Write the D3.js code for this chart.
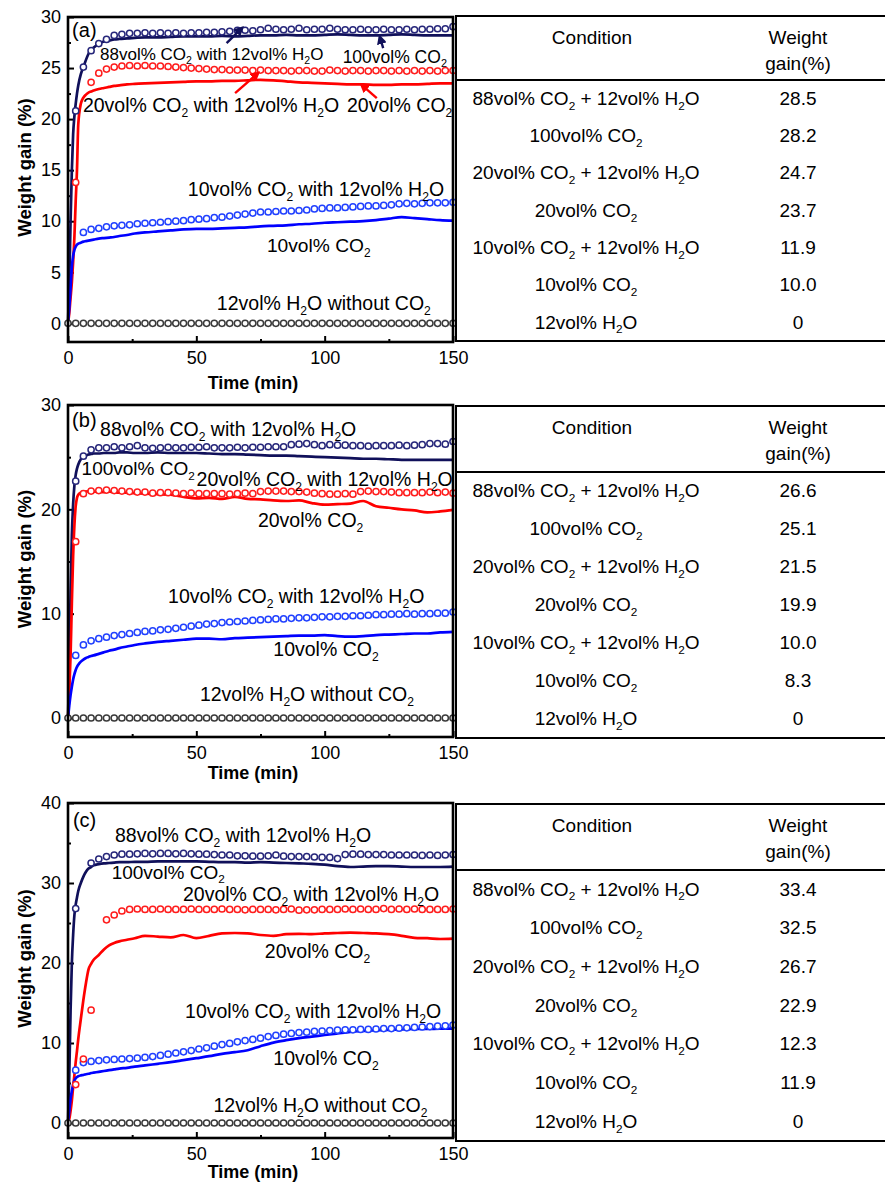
<!DOCTYPE html>
<html><head><meta charset="utf-8">
<script src="https://cdn.jsdelivr.net/npm/d3@7"></script>
<style>
body{margin:0;background:#fff;}
svg{display:block;}
</style></head><body>
<svg id="chart" width="885" height="1183"></svg>
<script>
// ---------------- DATA ----------------
const xTicks = [0, 50, 100, 150];
const xMinorTicks = [25, 75, 125];
const yTicksA = [0, 5, 10, 15, 20, 25, 30];
const yMinorA = [2.5, 7.5, 12.5, 17.5, 22.5, 27.5];
const yTicksB = [0, 10, 20, 30];
const yMinorB = [5, 15, 25];
const yTicksC = [0, 10, 20, 30, 40];
const yMinorC = [5, 15, 25, 35];

// time grid for the continuous (solid line) TGA curves, min
const lineTimes = [0,0.5,1,1.5,2,2.5,3,3.5,4,5,6,7,8,9,10,12,14,16,18,20,23,26,30,35,40,45,50,55,60,65,70,75,80,85,90,95,100,105,110,115,120,125,130,135,140,145,150];
// time grid for the open-circle curves, min
const markerTimes = [0,3,6,9,12,15,18,21,24,27,30,33,36,39,42,45,48,51,54,57,60,63,66,69,72,75,78,81,84,87,90,93,96,99,102,105,108,111,114,117,120,123,126,129,132,135,138,141,144,147,150];

// ----- panel (a) -----
const a_co2_100 = [0,4,10,15,18.5,20.3,21.5,22.5,23.3,24.4,25.1,25.8,26.4,26.8,27.0,27.4,27.6,27.7,27.8,27.85,27.9,27.95,28.0,28.0,28.05,28.1,28.1,28.1,28.15,28.1,28.15,28.2,28.2,28.25,28.2,28.2,28.25,28.3,28.25,28.2,28.2,28.25,28.3,28.25,28.2,28.2,28.2];
const a_co2_20 = [0,1,2.5,4,6,8.5,12,15,19.5,21.5,22.1,22.4,22.6,22.7,22.8,22.95,23.05,23.15,23.25,23.3,23.4,23.45,23.5,23.55,23.6,23.65,23.7,23.7,23.75,23.75,23.8,23.85,23.8,23.7,23.6,23.55,23.5,23.45,23.4,23.4,23.35,23.35,23.4,23.4,23.45,23.5,23.5];
const a_co2_10 = [0,1.5,3.5,5.5,6.6,7.2,7.5,7.7,7.8,7.9,8.0,8.05,8.1,8.15,8.2,8.3,8.35,8.4,8.45,8.55,8.65,8.8,8.9,9.0,9.1,9.2,9.25,9.25,9.3,9.35,9.4,9.5,9.55,9.6,9.7,9.75,9.85,9.9,9.95,10.0,10.1,10.25,10.4,10.3,10.2,10.1,10.05];
const a_h2o_88 = [null,20.8,25.1,26.7,27.4,27.8,28.2,28.3,28.4,28.4,
 28.45,28.4,28.45,28.4,28.45,28.4,28.45,28.45,28.5,28.5,
 28.55,28.6,28.7,28.7,28.65,28.75,28.9,28.8,28.75,28.8,
 28.9,28.75,28.8,28.8,28.9,28.8,28.75,28.75,28.8,28.75,
 28.75,28.8,28.75,28.75,28.8,28.75,28.8,28.8,28.85,28.85,29.05];
const a_h2o_20 = [null,13.8,null,23.6,24.5,24.9,25.1,25.2,25.25,25.2,
 25.25,25.2,25.2,25.15,25.1,25.05,25.0,24.95,24.9,24.85,
 24.85,24.8,24.8,24.8,24.75,24.8,24.75,24.75,24.75,24.7,
 24.75,24.75,24.7,24.7,24.8,24.75,24.7,24.75,24.75,24.7,
 24.75,24.75,24.7,24.75,24.7,24.75,24.7,24.75,24.7,24.75,24.75];
const a_h2o_10 = [null,null,8.9,9.2,9.3,9.45,9.55,9.6,9.65,9.75,
 9.8,9.85,9.9,9.95,10.0,10.05,10.15,10.2,10.25,10.35,
 10.4,10.5,10.6,10.7,10.8,10.9,10.9,10.95,11.0,11.0,
 11.05,11.1,11.2,11.25,11.3,11.3,11.35,11.4,11.45,11.5,
 11.5,11.55,11.6,11.7,11.75,11.7,11.75,11.8,11.8,11.8,11.85];
const a_h2o_only = [0,0,0,0,0,0,0,0,0,0,0,0,0,0,0,0,0,0,0,0,0,0,0,0,0,0,0,0,0,0,0,0,0,0,0,0,0,0,0,0,0,0,0,0,0,0,0,0,0,0,0];

// ----- panel (b) -----
const b_co2_100 = [0,5,12,17.5,20.5,22.3,23.3,23.9,24.3,24.8,25.0,25.15,25.25,25.3,25.35,25.35,25.4,25.4,25.4,25.45,25.45,25.4,25.4,25.45,25.4,25.4,25.4,25.35,25.3,25.3,25.25,25.2,25.15,25.15,25.1,25.05,25.0,24.95,24.9,24.85,24.85,24.8,24.75,24.75,24.75,24.75,24.75];
const b_co2_20 = [0,2.5,6,11,15.5,18.5,20.3,21.1,21.4,21.6,21.7,21.7,21.75,21.7,21.7,21.7,21.65,21.7,21.65,21.6,21.6,21.55,21.5,21.45,21.4,21.2,21.05,21.1,21.0,21.2,21.0,20.95,20.85,20.8,20.85,20.6,20.45,20.5,20.55,20.8,20.3,20.15,20.0,19.9,19.7,19.8,19.95];
const b_co2_10 = [0,1.2,2.2,3.0,3.7,4.2,4.6,4.9,5.1,5.4,5.6,5.75,5.85,5.95,6.0,6.15,6.3,6.45,6.55,6.7,6.85,7.0,7.15,7.3,7.4,7.5,7.6,7.6,7.55,7.65,7.7,7.75,7.8,7.85,7.9,7.9,7.95,7.85,7.8,7.85,7.95,8.0,8.05,8.1,8.1,8.2,8.25];
const b_h2o_88 = [null,22.7,25.1,25.7,25.9,25.9,26.0,25.9,26.0,26.1,
 25.9,25.85,25.9,25.95,25.9,25.9,25.95,25.95,26.0,25.9,
 25.9,25.9,25.95,25.9,25.95,25.95,26.0,26.0,26.0,26.2,
 26.25,26.3,26.2,26.1,26.2,26.15,26.15,26.1,26.1,26.05,
 26.1,26.1,26.1,26.15,26.1,26.15,26.2,26.3,26.3,26.25,26.5];
const b_h2o_20 = [null,16.9,21.5,21.75,21.8,21.85,21.8,21.75,21.7,21.65,
 21.65,21.55,21.6,21.6,21.55,21.5,21.55,21.5,21.5,21.5,
 21.5,21.45,21.5,21.55,21.5,21.7,21.75,21.75,21.75,21.7,
 21.7,21.65,21.55,21.5,21.45,21.45,21.5,21.45,21.7,21.75,
 21.7,21.7,21.65,21.6,21.6,21.6,21.6,21.65,21.6,21.65,21.55];
const b_h2o_10 = [null,6.0,7.0,7.4,7.6,7.75,7.9,8.0,8.1,8.2,
 8.3,8.35,8.45,8.5,8.6,8.7,8.8,8.9,9.0,9.05,
 9.15,9.2,9.25,9.3,9.35,9.4,9.45,9.5,9.5,9.55,
 9.6,9.6,9.65,9.7,9.7,9.75,9.75,9.8,9.8,9.85,
 9.9,9.9,9.95,9.95,10.0,9.95,10.0,10.0,10.05,10.05,10.15];
const b_h2o_only = [0,0,0,0,0,0,0,0,0,0,0,0,0,0,0,0,0,0,0,0,0,0,0,0,0,0,0,0,0,0,0,0,0,0,0,0,0,0,0,0,0,0,0,0,0,0,0,0,0,0,0];

// ----- panel (c) -----
const c_co2_100 = [0,6,14,20,23.5,26,27.3,28.2,29.0,30.0,30.8,31.4,31.8,32.0,32.2,32.35,32.45,32.5,32.55,32.6,32.6,32.65,32.65,32.7,32.7,32.7,32.7,32.65,32.6,32.6,32.55,32.6,32.55,32.5,32.45,32.4,32.3,32.1,32.0,32.05,32.1,32.1,32.05,32.0,32.0,32.0,32.05];
const c_co2_20 = [0,0.5,1.5,2.8,4.5,6,7.6,9,10.5,13.0,15.4,17.5,19.2,19.9,20.4,21.0,21.7,22.2,22.5,22.7,22.9,23.1,23.4,23.3,23.2,23.5,23.1,23.4,23.7,23.75,23.7,23.5,23.4,23.6,23.65,23.6,23.7,23.75,23.8,23.75,23.7,23.6,23.4,23.15,23.1,23.0,23.05];
const c_co2_10 = [0,1.5,3.0,4.0,4.8,5.3,5.6,5.75,5.85,5.95,6.0,6.1,6.15,6.25,6.3,6.4,6.5,6.6,6.7,6.8,6.9,7.05,7.2,7.4,7.6,7.85,8.1,8.35,8.65,8.85,9.1,9.6,10.05,10.35,10.6,10.8,11.0,11.2,11.4,11.5,11.6,11.65,11.7,11.75,11.75,11.8,11.8];
const c_h2o_88 = [null,26.8,null,32.5,33.0,33.3,33.5,33.6,33.6,33.65,
 33.7,33.65,33.7,33.7,33.65,33.7,33.65,33.6,33.6,33.55,
 33.5,33.5,33.4,33.4,33.35,33.35,33.4,33.5,33.35,33.3,
 33.3,33.3,33.25,33.2,33.2,33.05,33.55,33.6,33.6,33.55,
 33.55,33.55,33.5,33.5,33.5,33.5,33.45,33.5,33.45,33.5,33.55];
const c_h2o_20 = [null,4.8,8.0,14.1,null,25.4,26.0,26.5,26.7,26.75,
 26.7,26.7,26.75,26.7,26.7,26.7,26.75,26.7,26.7,26.7,
 26.75,26.7,26.7,26.65,26.7,26.7,26.7,26.65,26.7,26.75,
 26.6,26.65,26.65,26.7,26.7,26.7,26.75,26.7,26.75,26.7,
 26.7,26.8,26.7,26.75,26.7,26.75,26.7,26.7,26.7,26.7,26.75];
const c_h2o_10 = [null,6.6,7.55,7.7,7.8,7.9,7.95,8.0,8.05,8.1,
 8.2,8.3,8.45,8.6,8.75,8.9,9.05,9.25,9.4,9.6,
 9.8,9.95,10.15,10.3,10.45,10.6,10.8,10.95,11.1,11.2,
 11.3,11.35,11.45,11.5,11.55,11.6,11.65,11.65,11.7,11.7,
 11.75,11.8,11.8,11.85,11.9,11.95,12.0,12.05,12.1,12.15,12.25];
const c_h2o_only = [0,0,0,0,0,0,0,0,0,0,0,0,0,0,0,0,0,0,0,0,0,0,0,0,0,0,0,0,0,0,0,0,0,0,0,0,0,0,0,0,0,0,0,0,0,0,0,0,0,0,0];

// ----- tables -----
const conditions = ["88vol% CO_2 + 12vol% H_2O", "100vol% CO_2", "20vol% CO_2 + 12vol% H_2O", "20vol% CO_2", "10vol% CO_2 + 12vol% H_2O", "10vol% CO_2", "12vol% H_2O"];
const gainA = ["28.5", "28.2", "24.7", "23.7", "11.9", "10.0", "0"];
const gainB = ["26.6", "25.1", "21.5", "19.9", "10.0", "8.3", "0"];
const gainC = ["33.4", "32.5", "26.7", "22.9", "12.3", "11.9", "0"];

// ---------------- LAYOUT / STYLE ----------------
const FONT = '"Liberation Sans", Arial, Helvetica, sans-serif';
const COL = {navy:'#10105a', navyM:'#26267a', red:'#ff0000', redM:'#ff1c1c', blue:'#0000ff', blueM:'#2040ff', gray:'#3a3a3a'};
const PLOT_L = 68, PLOT_R = 453;
const TBL_L = 455, TBL_R = 885, COND_X = 586, GAIN_X = 798;

const panels = [
  {tag:'a', top:17, bottom:342, yMin:-1.83, yMax:30, yt:yTicksA, ym:yMinorA, titleDy:47, tTop:16, tHead:80, tBottom:341,
   lines:[[a_co2_100,COL.navy],[a_co2_20,COL.red],[a_co2_10,COL.blue]],
   markers:[[a_h2o_only,COL.gray],[a_h2o_10,COL.blueM],[a_h2o_20,COL.redM],[a_h2o_88,COL.navyM]],
   gains:gainA,
   labels:[
    ['(a)',1.6,28.0,20],
    ['88vol% CO_2 with 12vol% H_2O',12.5,25.8,17],
    ['100vol% CO_2',107,25.5,17.5],
    ['20vol% CO_2 with 12vol% H_2O',5.8,20.7,19.5],
    ['20vol% CO_2',108.7,20.7,19.5],
    ['10vol% CO_2 with 12vol% H_2O',46.7,12.5,19.5],
    ['10vol% CO_2',77.5,7.0,19.2],
    ['12vol% H_2O without CO_2',58,1.3,19.5]],
   arrows:[[61.8,27.45,67.7,28.92,COL.navy],[122.8,26.96,121.5,28.04,COL.navy],[65.1,22.55,74.0,24.5,COL.red],[120.3,22.06,114.4,23.36,COL.red]]},
  {tag:'b', top:405, bottom:737, yMin:-1.82, yMax:30, yt:yTicksB, ym:yMinorB, titleDy:42, tTop:406, tHead:472, tBottom:738,
   lines:[[b_co2_100,COL.navy],[b_co2_20,COL.red],[b_co2_10,COL.blue]],
   markers:[[b_h2o_only,COL.gray],[b_h2o_10,COL.blueM],[b_h2o_20,COL.redM],[b_h2o_88,COL.navyM]],
   gains:gainB,
   labels:[
    ['(b)',1.6,27.9,20],
    ['88vol% CO_2 with 12vol% H_2O',12.5,27.0,19.5],
    ['100vol% CO_2',5.3,23.3,19],
    ['20vol% CO_2 with 12vol% H_2O',50.1,22.2,19.5],
    ['20vol% CO_2',74,18.3,19.5],
    ['10vol% CO_2 with 12vol% H_2O',39,11.0,19.5],
    ['10vol% CO_2',80,5.9,19.5],
    ['12vol% H_2O without CO_2',51.4,1.6,19.5]],
   arrows:[]},
  {tag:'c', top:803, bottom:1138, yMin:-1.875, yMax:40, yt:yTicksC, ym:yMinorC, titleDy:40, tTop:804, tHead:870, tBottom:1141,
   lines:[[c_co2_100,COL.navy],[c_co2_20,COL.red],[c_co2_10,COL.blue]],
   markers:[[c_h2o_only,COL.gray],[c_h2o_10,COL.blueM],[c_h2o_20,COL.redM],[c_h2o_88,COL.navyM]],
   gains:gainC,
   labels:[
    ['(c)',1.9,37.0,20],
    ['88vol% CO_2 with 12vol% H_2O',18.3,35.1,19.5],
    ['100vol% CO_2',17,30.55,19],
    ['20vol% CO_2 with 12vol% H_2O',44.8,27.7,19.5],
    ['20vol% CO_2',76.7,20.6,19.5],
    ['10vol% CO_2 with 12vol% H_2O',45.6,13.1,19.5],
    ['10vol% CO_2',80,7.25,19.5],
    ['12vol% H_2O without CO_2',56.7,1.4,19.5]],
   arrows:[]}
];

// ---------------- DRAW ----------------
const svg = d3.select('#chart').attr('font-family', FONT);
svg.append('rect').attr('width',885).attr('height',1183).attr('fill','#fff');

const defs = svg.append('defs');
[['navy',COL.navy],['red',COL.red]].forEach(([k,c])=>{
  defs.append('marker').attr('id','arr-'+k).attr('viewBox','0 0 10 10')
    .attr('refX',7).attr('refY',5).attr('markerWidth',10).attr('markerHeight',10)
    .attr('markerUnits','userSpaceOnUse').attr('orient','auto')
    .append('path').attr('d','M0,0 L10,5 L0,10 z').attr('fill',c);
});

// text with subscript "2" wherever "_2" appears
function rich(textSel, str, fs){
  const parts = str.split('_2');
  let shifted = false;
  parts.forEach((p,i)=>{
    if(i>0){
      textSel.append('tspan').attr('font-size',fs*0.62).attr('dy',fs*0.25).text('2');
      shifted = true;
    }
    if(p.length){
      const t = textSel.append('tspan').text(p);
      if(shifted){ t.attr('dy',-fs*0.25); shifted=false; }
    }
  });
}

function styleAxis(sel, fs){
  sel.select('.domain').remove();
  sel.selectAll('line').attr('stroke','#000').attr('stroke-width',2);
  sel.selectAll('text').attr('font-size',fs).attr('font-family',FONT).attr('fill','#000');
}

panels.forEach(p=>{
  const g = svg.append('g');
  const x = d3.scaleLinear().domain([0,150]).range([PLOT_L,PLOT_R]);
  const y = d3.scaleLinear().domain([p.yMin,p.yMax]).range([p.bottom,p.top]);

  // axes (inward ticks)
  g.append('g').attr('transform',`translate(0,${p.bottom})`)
    .call(d3.axisBottom(x).tickValues(xTicks).tickSize(-6).tickPadding(9).tickFormat(d3.format('d')))
    .call(s=>styleAxis(s,18));
  g.append('g').attr('transform',`translate(0,${p.bottom})`)
    .call(d3.axisBottom(x).tickValues(xMinorTicks).tickSize(-3).tickFormat(''))
    .call(s=>styleAxis(s,18));
  g.append('g').attr('transform',`translate(${PLOT_L},0)`)
    .call(d3.axisLeft(y).tickValues(p.yt).tickSize(-6).tickPadding(7).tickFormat(d3.format('d')))
    .call(s=>styleAxis(s,18));
  g.append('g').attr('transform',`translate(${PLOT_L},0)`)
    .call(d3.axisLeft(y).tickValues(p.ym).tickSize(-3).tickFormat(''))
    .call(s=>styleAxis(s,18));

  // solid curves
  const line = d3.line().defined(d=>d[1]!=null).x(d=>x(d[0])).y(d=>y(d[1])).curve(d3.curveMonotoneX);
  p.lines.forEach(([vals,color])=>{
    g.append('path').datum(lineTimes.map((t,i)=>[t,vals[i]]))
      .attr('d',line).attr('fill','none').attr('stroke',color)
      .attr('stroke-width',2.7).attr('stroke-linejoin','round');
  });
  // open-circle curves
  p.markers.forEach(([vals,color])=>{
    g.append('g').selectAll('circle')
      .data(markerTimes.map((t,i)=>[t,vals[i]]).filter(d=>d[1]!=null))
      .join('circle')
      .attr('cx',d=>x(d[0])).attr('cy',d=>y(d[1])).attr('r',3.1)
      .attr('fill','#fff').attr('stroke',color).attr('stroke-width',1.5);
  });

  // frame
  g.append('rect').attr('x',PLOT_L).attr('y',p.top).attr('width',PLOT_R-PLOT_L).attr('height',p.bottom-p.top)
    .attr('fill','none').attr('stroke','#000').attr('stroke-width',2.6);

  // arrows
  p.arrows.forEach(([t0,v0,t1,v1,c])=>{
    g.append('line').attr('x1',x(t0)).attr('y1',y(v0)).attr('x2',x(t1)).attr('y2',y(v1))
      .attr('stroke',c).attr('stroke-width',2.4)
      .attr('marker-end',`url(#arr-${c===COL.red?'red':'navy'})`);
  });

  // labels
  p.labels.forEach(([s,t,v,fs])=>{
    const tx = g.append('text').attr('x',x(t)).attr('y',y(v)).attr('font-size',fs).attr('fill','#000');
    rich(tx,s,fs);
  });

  // axis titles
  g.append('text').attr('x',253).attr('y',p.bottom+p.titleDy).attr('text-anchor','middle')
    .attr('font-size',18).attr('font-weight','bold').text('Time (min)');
  const midY = (p.top+p.bottom)/2 - 12;
  g.append('text').attr('transform',`translate(31,${midY}) rotate(-90)`).attr('text-anchor','middle')
    .attr('font-size',18.5).attr('font-weight','bold').text('Weight gain (%)');

  // table
  const tg = svg.append('g');
  [p.tTop,p.tHead,p.tBottom].forEach(yy=>{
    tg.append('line').attr('x1',TBL_L).attr('x2',TBL_R).attr('y1',yy).attr('y2',yy)
      .attr('stroke','#000').attr('stroke-width',2);
  });
  tg.append('line').attr('x1',TBL_L+1).attr('x2',TBL_L+1).attr('y1',p.tTop).attr('y2',p.tBottom)
    .attr('stroke','#000').attr('stroke-width',2);
  const hfs = 19;
  tg.append('text').attr('x',COND_X+6).attr('y',p.tTop+21+hfs*0.36).attr('text-anchor','middle').attr('font-size',hfs).text('Condition');
  tg.append('text').attr('x',GAIN_X).attr('y',p.tTop+21+hfs*0.36).attr('text-anchor','middle').attr('font-size',hfs).text('Weight');
  tg.append('text').attr('x',GAIN_X).attr('y',p.tTop+47+hfs*0.36).attr('text-anchor','middle').attr('font-size',hfs).text('gain(%)');
  const rows = d3.scaleBand().domain(d3.range(conditions.length)).range([p.tHead,p.tBottom]);
  conditions.forEach((c,i)=>{
    const cy = rows(i)+rows.bandwidth()/2 + hfs*0.33;
    const t1 = tg.append('text').attr('x',COND_X).attr('y',cy).attr('text-anchor','middle').attr('font-size',hfs);
    rich(t1,c,hfs);
    tg.append('text').attr('x',GAIN_X).attr('y',cy).attr('text-anchor','middle').attr('font-size',hfs).text(p.gains[i]);
  });
});
</script>
</body></html>
